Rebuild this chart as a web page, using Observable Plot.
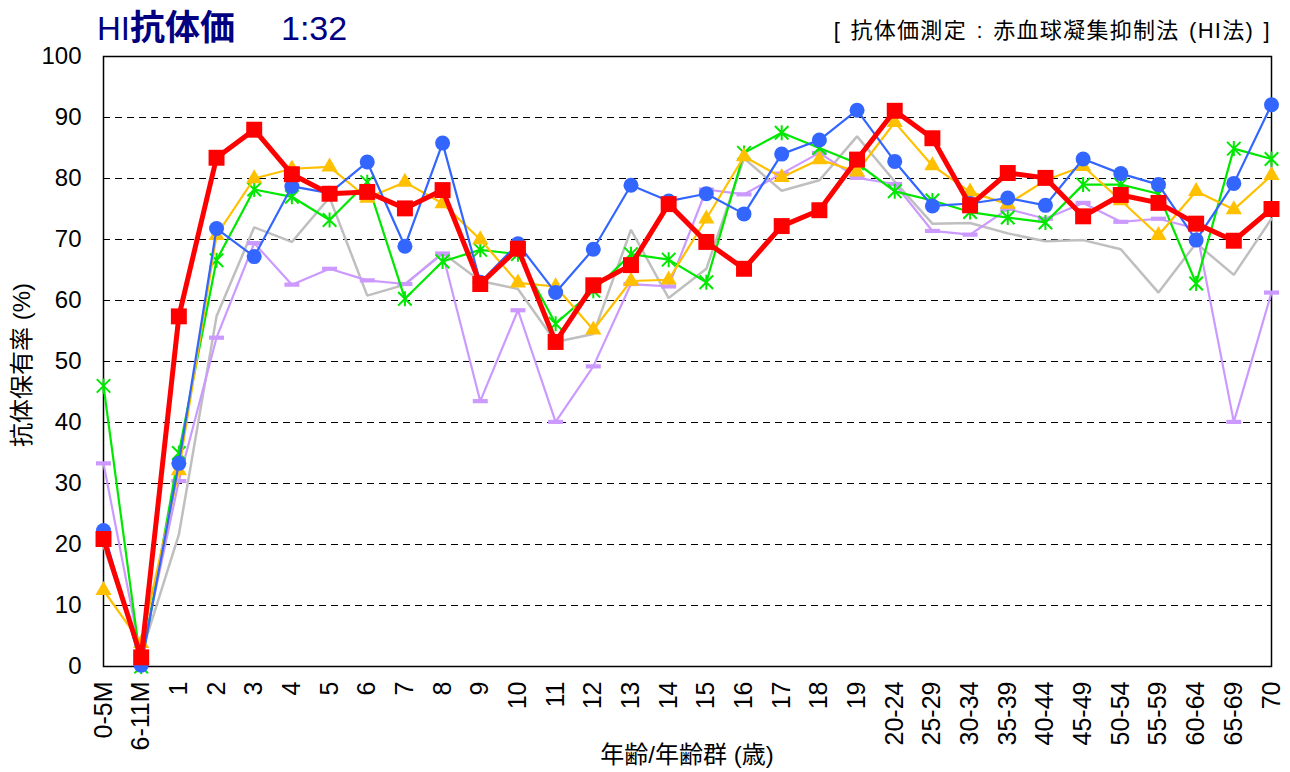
<!DOCTYPE html>
<html>
<head>
<meta charset="utf-8">
<script src="https://cdn.jsdelivr.net/npm/d3@7"></script>
<script src="https://cdn.jsdelivr.net/npm/@observablehq/plot@0.6"></script>
<style>
  body { margin: 0; background: #fff; }
  #wrap { position: relative; width: 1290px; height: 772px; overflow: hidden;
          font-family: 'Liberation Sans', Arial, 'Noto Sans CJK JP', sans-serif; }
  #title { position: absolute; left: 97px; top: 8px; font-size: 33px; line-height: 40px;
           color: #000080; white-space: nowrap; }
  #title .b { font-weight: bold; font-size: 35px; }
  #title .r { margin-left: 46px; font-size: 34px; }
  #method { position: absolute; right: 19px; top: 18px; font-size: 22px; line-height: 26px;
            color: #000; white-space: nowrap; letter-spacing: 1.3px; word-spacing: 2px; }
  #ylabel { position: absolute; left: 22px; top: 365px; font-size: 24px; white-space: nowrap;
            transform: translate(-50%, -50%) rotate(-90deg); line-height: 28px; }
  #xlabel { position: absolute; left: 687px; top: 755px; font-size: 24px; white-space: nowrap;
            transform: translate(-50%, -50%); line-height: 28px; }
  #chart { position: absolute; left: 0; top: 0; }
</style>
</head>
<body>
<div id="wrap">
  <div id="chart"></div>
  <div id="title">HI<span class="b">抗体価</span><span class="r">1:32</span></div>
  <div id="method">[ 抗体価測定 : 赤血球凝集抑制法 (HI法) ]</div>
  <div id="ylabel">抗体保有率 (%)</div>
  <div id="xlabel">年齢/年齢群 (歳)</div>
</div>
<script>
// Categories (age / age group)
const categories = ["0-5M","6-11M","1","2","3","4","5","6","7","8","9","10","11","12","13","14","15","16","17","18","19",
  "20-24","25-29","30-34","35-39","40-44","45-49","50-54","55-59","60-64","65-69","70"];

// Y axis ticks
const yTicks = [0,10,20,30,40,50,60,70,80,90,100];
const gridTicks = [10,20,30,40,50,60,70,80,90];

// Series values (% with antibody)
const grayValues   = [19.8, 2.0, 21.6, 57.4, 72.0, 69.6, 76.9, 60.8, 62.6, 67.8, 63.2, 61.9, 53.2, 54.5, 71.6, 60.4, 65.2, 83.3, 78.0, 79.7, 86.9,
                      79.5, 72.6, 72.7, 71.0, 69.7, 69.9, 68.4, 61.3, 69.4, 64.2, 73.4];
const purpleValues = [33.3, 1.5, 30.4, 53.9, 69.4, 62.6, 65.2, 63.3, 62.7, 67.7, 43.5, 58.4, 40.1, 49.2, 62.7, 62.3, 78.2, 77.4, 80.8, 84.2, 80.1,
                      79.1, 71.4, 70.8, 75.0, 73.4, 76.0, 72.9, 73.4, 71.8, 40.1, 61.3];
const greenValues  = [46.0, 0.0, 35.0, 66.6, 78.2, 77.0, 73.2, 79.4, 60.3, 66.4, 68.3, 67.6, 56.2, 61.6, 67.6, 66.7, 63.0, 84.2, 87.5, 85.0, 82.5,
                      77.9, 76.4, 74.5, 73.6, 72.8, 79.0, 79.0, 77.5, 62.8, 84.9, 83.2];
const yellowValues = [12.5, 3.8, 32.1, 70.7, 80.0, 81.6, 81.9, 76.8, 79.4, 75.9, 70.0, 62.9, 62.3, 55.2, 63.2, 63.4, 73.4, 83.6, 80.2, 83.1, 81.1,
                      89.2, 82.1, 77.8, 75.8, 79.7, 82.0, 76.4, 70.7, 77.9, 74.9, 80.5];
const blueValues   = [22.3, 0.2, 33.3, 71.8, 67.2, 78.7, 77.6, 82.7, 68.9, 85.8, 63.0, 69.3, 61.3, 68.4, 78.9, 76.3, 77.5, 74.2, 84.0, 86.3, 91.2,
                      82.8, 75.5, 75.9, 76.8, 75.6, 83.2, 80.8, 79.0, 69.9, 79.2, 92.1];
const redValues    = [20.9, 1.5, 57.4, 83.4, 88.0, 80.7, 77.5, 77.8, 75.1, 78.1, 62.7, 68.5, 53.2, 62.5, 65.8, 75.8, 69.6, 65.2, 72.2, 74.8, 83.1,
                      91.1, 86.6, 75.6, 80.9, 80.1, 73.8, 77.3, 76.0, 72.6, 69.8, 75.0];

// Custom marker shapes (Excel-like)
const symbolStar = {
  draw(ctx, size) {
    const r = Math.sqrt(size / Math.PI), d = r * 0.9;
    ctx.moveTo(0, -r); ctx.lineTo(0, r);
    ctx.moveTo(-d, -d); ctx.lineTo(d, d);
    ctx.moveTo(-d, d); ctx.lineTo(d, -d);
  }
};
const symbolDash = {
  draw(ctx, size) {
    const r = Math.sqrt(size / Math.PI), h = r * 0.28;
    ctx.moveTo(-r, -h); ctx.lineTo(r, -h); ctx.lineTo(r, h); ctx.lineTo(-r, h); ctx.closePath();
  }
};

const toRows = (vals) => categories.map((c, i) => ({cat: c, v: vals[i]}));

const series = [
  {vals: grayValues,   color: "#BFBFBF", lw: 2.5, marker: null},
  {vals: purpleValues, color: "#CC99FF", lw: 2.2, marker: {symbol: symbolDash, r: 7.5, filled: true}},
  {vals: greenValues,  color: "#00E800", lw: 2.2, marker: {symbol: symbolStar, r: 7.5, filled: false}},
  {vals: yellowValues, color: "#FFC000", lw: 2.2, marker: {symbol: "triangle", r: 6, filled: true}},
  {vals: blueValues,   color: "#3366FF", lw: 2.2, marker: {symbol: "circle", r: 7.5, filled: true}},
  {vals: redValues,    color: "#FF0000", lw: 5,   marker: {symbol: "square", r: 9, filled: true}}
];

const marks = [
  Plot.gridY(gridTicks, {stroke: "black", strokeOpacity: 1, strokeWidth: 1, strokeDasharray: "7,5"}),
  Plot.frame({stroke: "black", strokeWidth: 1.5}),
  Plot.axisY(yTicks, {tickSize: 0, tickPadding: 22, fontSize: 24, label: null}),
  Plot.axisX({tickRotate: -90, tickSize: 0, tickPadding: 15, fontSize: 25, label: null})
];

for (const s of series) {
  const rows = toRows(s.vals);
  marks.push(Plot.line(rows, {x: "cat", y: "v", stroke: s.color, strokeWidth: s.lw, strokeLinejoin: "miter"}));
  if (s.marker) {
    const m = s.marker;
    marks.push(Plot.dot(rows, {
      x: "cat", y: "v", r: m.r, symbol: m.symbol,
      fill: m.filled ? s.color : "none",
      stroke: m.filled ? "none" : s.color,
      strokeWidth: m.filled ? 0 : 2
    }));
  }
}

const chart = Plot.plot({
  width: 1290,
  height: 772,
  marginLeft: 103,
  marginRight: 19,
  marginTop: 56,
  marginBottom: 106,
  style: {fontFamily: "'Liberation Sans', Arial, 'Noto Sans CJK JP', sans-serif", fontSize: "24px", color: "black", background: "transparent", overflow: "visible"},
  x: {type: "point", domain: categories, padding: 0, round: false},
  y: {domain: [0, 100]},
  marks
});
document.getElementById("chart").appendChild(chart);
</script>
</body>
</html>
